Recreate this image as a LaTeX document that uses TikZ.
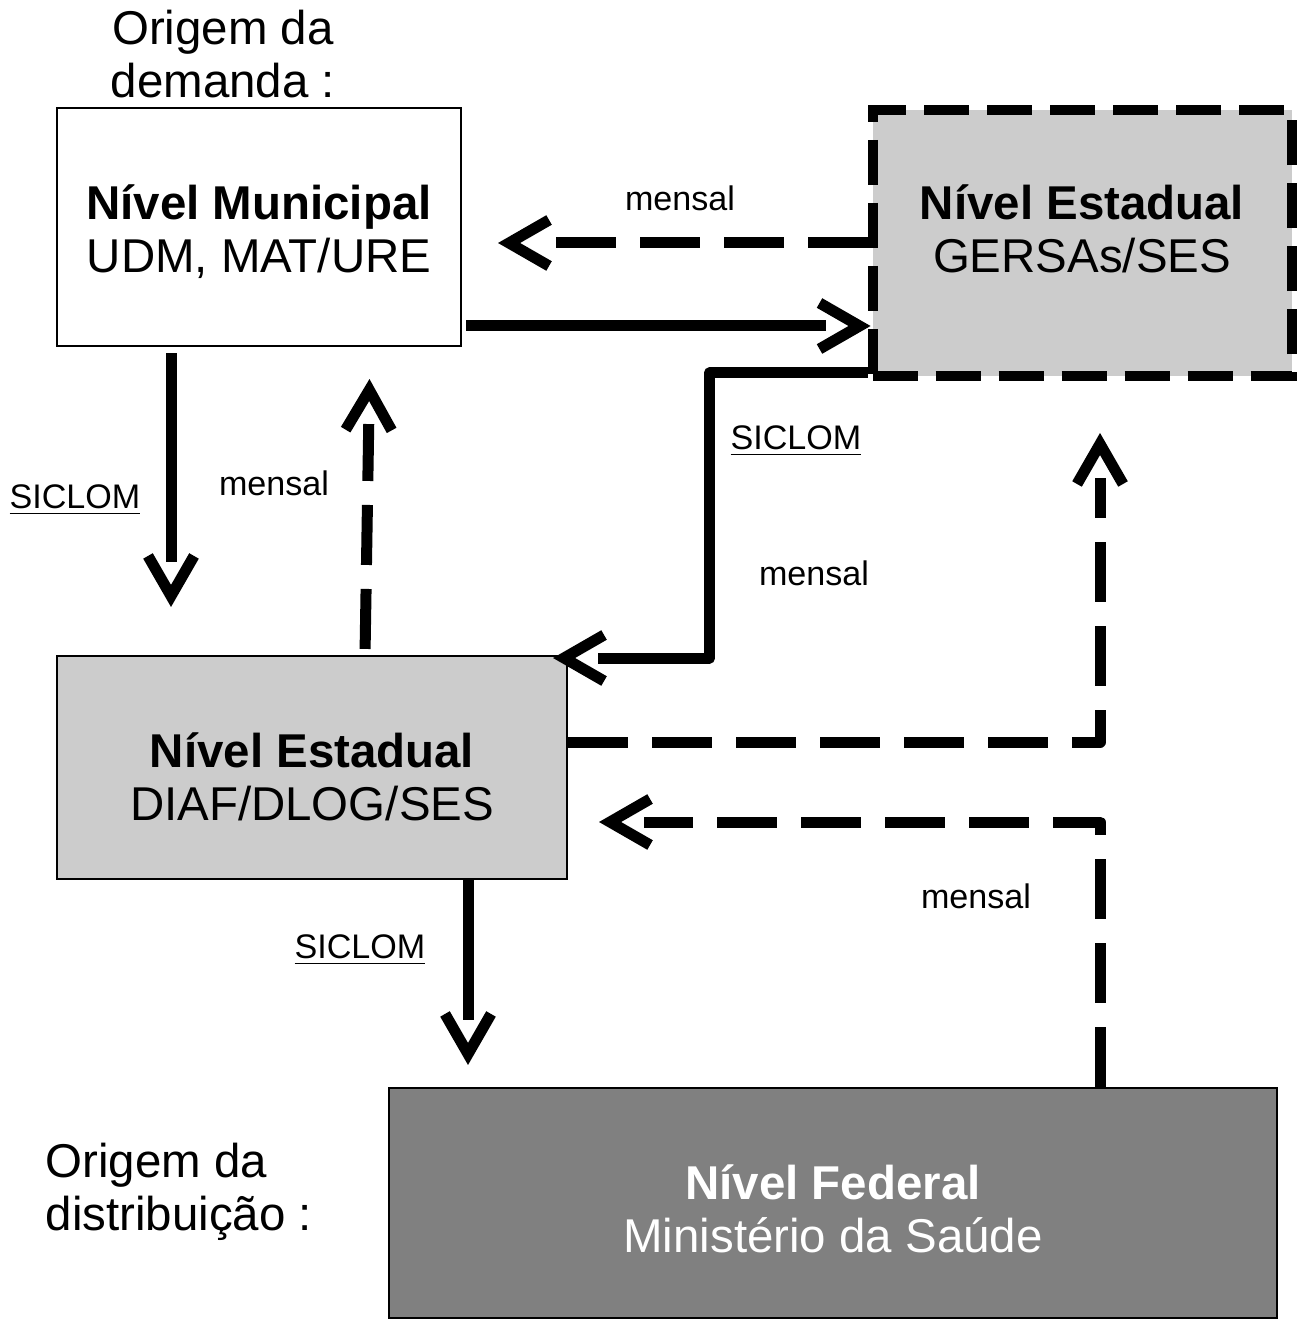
\documentclass[tikz,border=0pt]{standalone}
\usepackage{fontspec}
\setmainfont{Liberation Sans}
\definecolor{cinzaclaro}{HTML}{CCCCCC}
\definecolor{cinzaescuro}{HTML}{808080}
\pgfdeclarearrow{
	name = Chevron,
	setup code = {
		\pgfarrowssettipend{0pt}
		\pgfarrowssetlineend{-0.46cm}
		\pgfarrowssetbackend{-0.53cm}
		\pgfarrowssetvisualbackend{-0.53cm}
		\pgfarrowsupperhullpoint{-0.53cm}{0.28cm}
		\pgfarrowshullpoint{0pt}{0pt}
	},
	drawing code = {
		\pgfsetdash{}{0pt}
		\pgfsetmiterjoin
		\pgfsetbuttcap
		\pgfpathmoveto{\pgfpoint{-0.52cm}{0.23cm}}
		\pgfpathlineto{\pgfpoint{-0.12cm}{0cm}}
		\pgfpathlineto{\pgfpoint{-0.52cm}{-0.23cm}}
		\pgfusepathqstroke
	}
}

\begin{document}
\begin{tikzpicture}[x=1cm,y=-1cm,
	caixa/.style={draw=black,line width=0.6pt,inner sep=0pt},
	texto/.style={align=center,inner sep=0pt,font=\fontsize{13.5}{15.1}\selectfont},
	seta/.style={line width=0.11cm,line join=round,-{Chevron}},
	tracejada/.style={seta,dash pattern=on 0.6cm off 0.24cm},
	rotulo/.style={inner sep=0pt,font=\fontsize{9.7}{11}\selectfont}]
\useasboundingbox (0,0) rectangle (13.03,13.26);
\node[caixa,minimum width=4.04cm,minimum height=2.38cm] (M) at (2.59,2.27) {};
\node[caixa,fill=cinzaclaro,line width=0.1cm,dash pattern=on 0.45cm off 0.18cm,minimum width=4.19cm,minimum height=2.66cm] (G) at (10.82,2.43) {};
\node[caixa,fill=cinzaclaro,minimum width=5.10cm,minimum height=2.23cm] (D) at (3.12,7.675) {};
\node[caixa,fill=cinzaescuro,minimum width=8.88cm,minimum height=2.30cm] (F) at (8.33,12.03) {};
\node[texto] (tM) at ([yshift=-0.05cm]M) {\textbf{Nível Municipal}\\UDM, MAT/URE};
\node[texto] (tG) at ([yshift=0.14cm]G) {\textbf{Nível Estadual}\\GERSAs/SES};
\node[texto] (tD) at ([yshift=-0.09cm]D) {\textbf{Nível Estadual}\\DIAF/DLOG/SES};
\node[texto,text=white] (tF) at ([yshift=-0.06cm]F) {\textbf{Nível Federal}\\Ministério da Saúde};
\node[texto] (OD) at (2.23,0.54) {Origem da\\demanda :};
\node[texto,align=left,anchor=west] (ODi) at (0.45,11.92) {Origem da\\distribuição :};
\node[rotulo] (m1) at (6.80,1.98) {mensal};
\node[rotulo] (s1) at (0.75,5.00) {\underline{SICLOM}};
\node[rotulo] (m2) at (2.74,4.83) {mensal};
\node[rotulo] (s2) at (7.96,4.41) {\underline{SICLOM}};
\node[rotulo] (m3) at (8.14,5.73) {mensal};
\node[rotulo] (m4) at (9.76,8.96) {mensal};
\node[rotulo] (s3) at (3.60,9.50) {\underline{SICLOM}};
\draw[tracejada,shorten >=0.35cm] (G.west) -- (M.east |- G.west);
\draw[seta,shorten <=0.04cm,shorten >=-0.04cm] ([yshift=-0.99cm]M.east) -- ([yshift=-0.99cm]M.east -| G.west);
\draw[seta,shorten <=0.06cm,shorten >=0.47cm] ([xshift=-0.88cm]M.south) -- ([xshift=-0.88cm]M.south |- D.north);
\draw[tracejada,shorten <=0.06cm,shorten >=0.31cm] ([xshift=0.53cm]D.north) -- ([xshift=1.11cm]M.south);
\draw[seta,shorten >=-0.16cm] ([yshift=0.08cm]G.south west) -- ++(-1.58,0) |- ([yshift=1.095cm]D.east);
\draw[tracejada,shorten >=0.51cm] ([yshift=0.255cm]D.east) -| ([xshift=0.18cm]G.south);
\draw[tracejada,shorten >=0.30cm] ([xshift=2.67cm]F.north) |- ([yshift=-0.545cm]D.east);
\draw[seta,shorten >=0.21cm] ([xshift=1.56cm]D.south) -- ([xshift=1.56cm]D.south |- F.north);
\end{tikzpicture}
\end{document}
